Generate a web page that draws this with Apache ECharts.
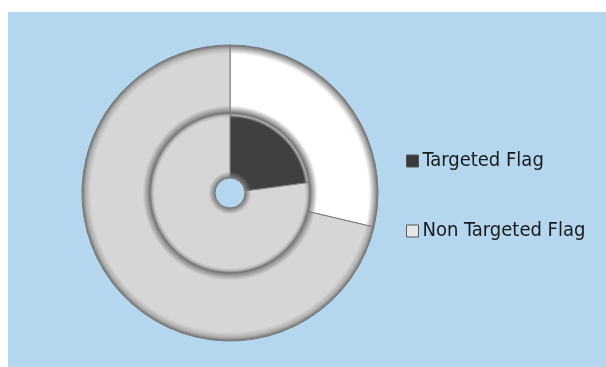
<!DOCTYPE html>
<html><head><meta charset="utf-8">
<script src="https://cdn.jsdelivr.net/npm/echarts@6/dist/echarts.min.js"></script>
<style>html,body{margin:0;padding:0;background:#fff}#c{width:606px;height:367px}</style>
</head><body><div id="c"></div>
<script>
const categories = ['Targeted Flag', 'Non Targeted Flag'];
const outerValues = [28.7, 71.3];
const innerValues = [22.9, 77.1];

const CX = 230, CY = 193;
function ringGrad(r0, r1, base, w) {
  const a = r0 / r1;
  return {
    type: 'radial', x: CX, y: CY, r: r1, global: true,
    colorStops: [
      {offset: 0, color: base},
      {offset: a, color: '#7c7c7c'},
      {offset: a + w, color: base},
      {offset: 0.94, color: base},
      {offset: 0.975, color: '#b0b0b0'},
      {offset: 1, color: '#6e6e6e'}
    ]
  };
}
const outerColors = ['#ffffff', '#d6d6d6'];
const innerColors = ['#404040', '#d6d6d6'];

const chart = echarts.init(document.getElementById('c'), null, {renderer: 'canvas'});
chart.setOption({
  animation: false,
  backgroundColor: '#ffffff',
  graphic: [{
    type: 'rect', z: -10, silent: true,
    shape: {x: 8, y: 12, width: 598, height: 355},
    style: {fill: '#b4d6ee'}
  }],
  legend: {
    orient: 'vertical', left: 401, top: 146, itemGap: 50, itemWidth: 12, itemHeight: 12, icon: 'rect',
    itemStyle: {borderWidth: 1, borderColor: '#555'},
    data: categories.map((c, i) => ({name: c, itemStyle: {color: i === 0 ? '#3a3a3a' : '#e6e6e6', borderColor: '#555', borderWidth: 1}})),
    textStyle: {fontFamily: 'Liberation Sans Narrow, DejaVu Sans Condensed, Liberation Sans', fontSize: 20, color: '#1a1a1a', padding: [0, 0, 0, -1]}
  },
  series: [{
    type: 'pie', name: 'outer', center: [CX, CY], radius: [80, 148],
    startAngle: 90, clockwise: true, label: {show: false}, labelLine: {show: false},
    emphasis: {disabled: true},
    data: categories.map((c, i) => ({name: c, value: outerValues[i],
      itemStyle: {color: ringGrad(80, 148, outerColors[i], 0.05), borderColor: '#7a7a7a', borderWidth: 1}}))
  }, {
    type: 'pie', name: 'inner', center: [CX, CY], radius: [15, 80],
    startAngle: 90, clockwise: true, label: {show: false}, labelLine: {show: false},
    emphasis: {disabled: true},
    data: categories.map((c, i) => ({name: c, value: innerValues[i],
      itemStyle: {color: ringGrad(15, 80, innerColors[i], 0.08), borderColor: '#7a7a7a', borderWidth: 1}}))
  }]
});
</script></body></html>
